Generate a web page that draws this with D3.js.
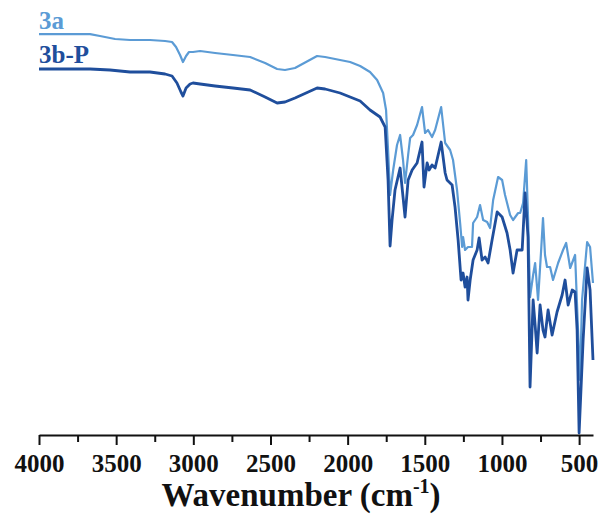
<!DOCTYPE html>
<html>
<head>
<meta charset="utf-8">
<script src="https://cdn.jsdelivr.net/npm/d3@7/dist/d3.min.js"></script>
<style>
  html, body { margin: 0; padding: 0; background: #fff; }
  svg { display: block; }
</style>
</head>
<body>
<div id="chart"></div>
<script>
// FT-IR spectra: wavenumber (cm^-1) vs. transmittance (a.u.)
const seriesNames = ["3a", "3b-P"];
const seriesColors = ["#5b9bd5", "#1f4e9c"];

const wn3a = [4000, 3864, 3669, 3605, 3507, 3410, 3281, 3183, 3138, 3112, 3086, 3067, 3047, 3028, 3002, 2956, 2859, 2743, 2632, 2535, 2457, 2406, 2341, 2198, 2146, 2049, 1984, 1919, 1855, 1809, 1770, 1751, 1738, 1725, 1705, 1680, 1660, 1641, 1628, 1608, 1595, 1576, 1550, 1518, 1498, 1479, 1453, 1433, 1394, 1368, 1336, 1317, 1291, 1271, 1258, 1252, 1239, 1220, 1194, 1187, 1161, 1142, 1122, 1096, 1077, 1057, 1025, 999, 980, 947, 928, 895, 882, 863, 843, 831, 818, 798, 785, 766, 746, 734, 721, 708, 688, 669, 636, 604, 584, 558, 526, 507, 494, 481, 448, 429, 410];
const t3a = [100.2, 100.2, 100.2, 99.75, 99.0, 98.75, 98.75, 98.5, 98.25, 97.0, 95.0, 93.25, 94.75, 95.75, 95.75, 96.0, 95.5, 95.0, 94.5, 93.0, 91.5, 91.25, 91.75, 94.75, 94.5, 93.75, 93.25, 92.25, 90.75, 88.75, 85.5, 81.25, 71.25, 60.0, 66.25, 72.5, 75.0, 68.75, 63.0, 70.0, 74.25, 75.0, 77.5, 82.0, 75.5, 76.25, 74.5, 76.25, 82.0, 73.0, 71.25, 68.75, 61.25, 53.0, 47.0, 49.5, 46.25, 47.0, 47.0, 53.0, 54.5, 57.5, 53.75, 53.25, 51.75, 58.75, 64.5, 63.75, 60.0, 55.0, 53.75, 55.5, 55.5, 58.0, 68.75, 54.5, 34.5, 40.0, 43.0, 33.75, 46.25, 54.25, 45.0, 42.0, 42.0, 38.75, 43.0, 46.25, 48.0, 41.75, 45.0, 26.25, 13.75, 33.75, 48.25, 47.0, 38.0];

const wn3bP = [4000, 3669, 3540, 3410, 3281, 3183, 3138, 3106, 3080, 3067, 3047, 3021, 3002, 2956, 2859, 2743, 2632, 2535, 2457, 2406, 2341, 2198, 2146, 2049, 1984, 1919, 1855, 1790, 1757, 1738, 1725, 1712, 1693, 1660, 1641, 1628, 1608, 1582, 1550, 1518, 1505, 1485, 1472, 1453, 1433, 1394, 1368, 1356, 1323, 1304, 1284, 1265, 1252, 1239, 1226, 1220, 1206, 1187, 1161, 1148, 1129, 1109, 1090, 1064, 1031, 999, 967, 947, 928, 902, 869, 850, 831, 818, 798, 785, 772, 753, 734, 721, 701, 675, 643, 610, 591, 571, 545, 526, 513, 500, 474, 448, 429, 410];
const t3bP = [91.5, 91.5, 91.25, 90.75, 90.75, 90.25, 89.75, 88.0, 85.75, 84.75, 86.75, 87.75, 88.0, 87.75, 87.25, 86.75, 86.25, 84.5, 83.0, 83.25, 84.25, 86.75, 86.5, 85.5, 84.5, 83.5, 81.25, 79.5, 77.0, 63.75, 47.25, 53.75, 61.25, 66.75, 59.5, 54.5, 63.75, 66.25, 68.0, 73.25, 62.0, 68.0, 66.25, 67.5, 66.75, 73.25, 65.5, 63.75, 62.5, 57.0, 48.75, 38.75, 40.5, 37.0, 39.5, 33.75, 38.75, 43.75, 46.25, 49.25, 43.75, 44.5, 43.0, 48.75, 55.75, 54.5, 50.5, 46.25, 40.5, 46.25, 46.25, 60.5, 49.5, 12.0, 33.75, 27.5, 20.5, 32.5, 26.25, 24.5, 31.25, 25.0, 30.75, 35.0, 38.75, 32.5, 36.25, 35.75, 26.25, 0.5, 23.75, 41.75, 36.25, 18.75];

const majorTicks = [4000, 3500, 3000, 2500, 2000, 1500, 1000, 500];
const minorTicks = [3750, 3250, 2750, 2250, 1750, 1250, 750];
const xTitle = "Wavenumber (cm";
const xTitleSup = "-1";

const width = 601, height = 515;
const svg = d3.select("#chart").append("svg")
  .attr("width", width).attr("height", height);

const x = d3.scaleLinear().domain([4000, 410]).range([39, 593]);
const y = d3.scaleLinear().domain([0, 100]).range([435, 35]);

const serif = "'Liberation Serif', 'Times New Roman', Tinos, 'DejaVu Serif', serif";

// spectra
const line = d3.line().x(d => x(d[0])).y(d => y(d[1]));
const spectra = [d3.zip(wn3a, t3a), d3.zip(wn3bP, t3bP)];
const widths = [2.2, 2.8];
spectra.forEach((pts, i) => {
  svg.append("path")
    .datum(pts)
    .attr("fill", "none")
    .attr("stroke", seriesColors[i])
    .attr("stroke-width", widths[i])
    .attr("stroke-linejoin", "round")
    .attr("d", line);
});

// x axis: minor ticks
svg.append("g")
  .attr("transform", `translate(0,${y(0)})`)
  .call(d3.axisBottom(x).tickValues(minorTicks).tickSize(7).tickFormat(""))
  .call(g => g.select(".domain").remove())
  .call(g => g.selectAll("line").attr("stroke", "#111").attr("stroke-width", 2));

// x axis: major ticks with labels
const ax = svg.append("g")
  .attr("transform", `translate(0,${y(0)})`)
  .call(d3.axisBottom(x).tickValues(majorTicks).tickSize(10).tickSizeOuter(0).tickFormat(d3.format("d")));
ax.select(".domain").attr("stroke", "#111").attr("stroke-width", 2.2);
ax.selectAll("line").attr("stroke", "#111").attr("stroke-width", 2);
ax.selectAll("text")
  .attr("y", 37).attr("dy", 0)
  .attr("fill", "#111")
  .style("font-family", serif)
  .style("font-weight", "bold")
  .style("font-size", "25px");

// axis title
const title = svg.append("text")
  .attr("x", 301).attr("y", 506)
  .attr("text-anchor", "middle")
  .attr("fill", "#111")
  .style("font-family", serif)
  .style("font-weight", "bold")
  .style("font-size", "33px");
title.append("tspan").text(xTitle);
title.append("tspan").text(xTitleSup)
  .attr("dy", -13).style("font-size", "20px");
title.append("tspan").text(")").attr("dy", 13);

// series labels
const labelY = [29, 63];
seriesNames.forEach((name, i) => {
  svg.append("text")
    .attr("x", 39).attr("y", labelY[i])
    .attr("fill", seriesColors[i])
    .style("font-family", serif)
    .style("font-weight", "bold")
    .style("font-size", "25px")
    .text(name);
});
</script>
</body>
</html>
